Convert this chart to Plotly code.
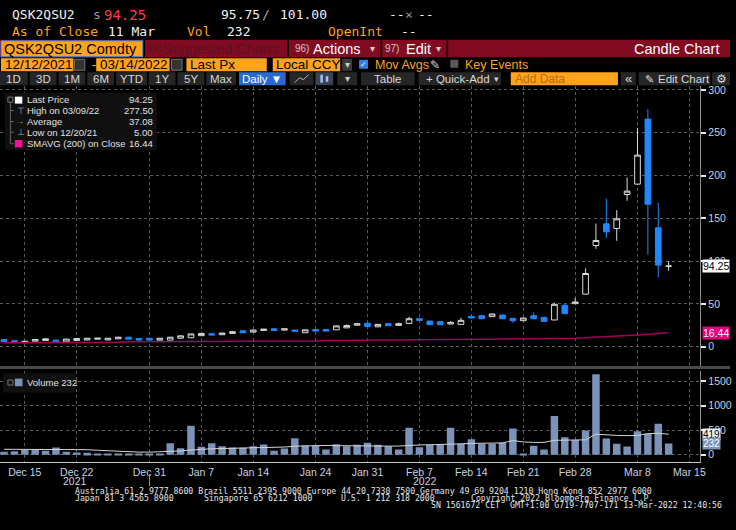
import plotly.graph_objects as go
import pandas as pd

W, H = 736, 530
SANS = "Liberation Sans, Arial, sans-serif"
MONO = "DejaVu Sans Mono, monospace"
ORANGE = "#ffa31a"
CRIMSON = "#830b21"
AXIS_TXT = "#c9d2e3"

# trading days shown (weekdays 13 Dec 2021 - 11 Mar 2022), plotted at noon
dates = pd.bdate_range("2021-12-13", "2022-03-11") + pd.Timedelta(hours=12)

opens = [8.5, 7.0, 4.8, 6.6, 7.4, 7.8, 5.8, 7.4, 8.0, 8.9, 8.0, 9.3, 11.2, 9.7, 10.0,
         7.8, 7.8, 10.0, 10.6, 13.0, 15.3, 14.1, 15.6, 18.7, 17.2, 19.1, 21.0, 19.5, 19.5, 16.4,
         20.2, 20.2, 19.8, 22.1, 25.2, 27.5, 23.3, 27.0, 25.0, 27.3, 32.8, 30.0, 29.3, 26.6, 26.2,
         35.5, 36.3, 35.2, 37.1, 33.2, 30.5, 36.3, 34.4, 31.3, 48.4, 50.4, 61.5, 118.3, 143.6, 138.2,
         177.9, 190.0, 266.0, 139.0, 94.2]
highs = [8.8, 7.2, 6.8, 8.7, 9.8, 8.0, 9.2, 9.9, 10.2, 10.1, 10.2, 11.6, 11.4, 9.9, 10.2,
         10.2, 11.4, 13.4, 15.2, 15.8, 15.5, 16.4, 18.5, 19.0, 20.2, 20.9, 21.5, 21.3, 19.8, 20.0,
         20.5, 20.6, 24.8, 26.0, 27.3, 27.8, 26.6, 27.3, 28.2, 35.0, 33.2, 30.3, 29.6, 30.0, 34.0,
         35.8, 37.5, 38.6, 37.4, 33.5, 34.0, 40.0, 34.7, 51.5, 50.5, 57.0, 91.5, 144.0, 172.9, 159.6,
         197.8, 255.8, 277.5, 168.2, 100.0]
lows = [5.8, 5.1, 4.6, 6.4, 7.2, 5.0, 5.6, 7.2, 7.8, 8.8, 7.9, 9.2, 8.8, 7.6, 7.7,
        7.6, 7.6, 9.8, 10.4, 12.8, 13.5, 13.9, 15.4, 16.2, 17.0, 18.9, 18.9, 19.3, 17.5, 16.2,
        18.0, 18.0, 19.6, 21.9, 25.0, 23.5, 23.0, 24.4, 24.8, 27.1, 30.7, 25.6, 25.6, 26.4, 26.0,
        33.4, 32.6, 35.0, 32.6, 28.0, 30.3, 32.6, 29.5, 31.1, 38.5, 50.2, 61.3, 114.4, 127.0, 123.8,
        170.5, 189.5, 107.8, 81.0, 88.8]
closes = [6.0, 5.2, 6.5, 8.5, 9.3, 5.2, 9.0, 9.7, 10.0, 10.0, 10.0, 11.2, 8.9, 7.8, 7.8,
          10.0, 11.2, 12.8, 15.0, 15.6, 13.7, 16.0, 17.6, 16.4, 19.5, 20.6, 19.1, 21.0, 18.3, 19.8,
          18.3, 18.3, 24.4, 24.8, 27.0, 23.7, 26.2, 24.6, 27.0, 32.8, 30.9, 25.8, 25.8, 28.5, 30.9,
          33.6, 32.8, 38.3, 32.8, 30.5, 33.6, 32.8, 29.7, 49.6, 38.7, 52.3, 85.6, 124.2, 134.3, 149.5,
          181.8, 223.9, 166.6, 95.4, 94.25]
sma200 = [4.8, 4.8, 4.9, 4.9, 4.9, 5.0, 5.0, 5.0, 5.1, 5.1, 5.1, 5.2,
          6.0, 6.0, 6.1, 6.1, 6.1, 6.2, 6.2, 6.2, 6.3, 6.3, 6.3, 6.4, 6.4, 6.5, 6.5, 6.6, 6.6, 6.7, 6.8,
          7.2, 7.3, 7.3, 7.4, 7.5, 7.5, 7.6, 7.7, 7.7, 7.8, 7.9, 7.9, 8.0, 8.1, 8.2, 8.3, 8.4, 8.5,
          8.6, 8.8, 8.9, 9.1,
          9.4, 9.7, 10.0, 10.5, 11.1, 11.7, 12.4, 13.1, 13.9, 14.7, 15.6, 16.44]
volume = [61, 74, 95, 95, 81, 149, 61, 47, 40, 20, 18, 20, 18, 20, 15,
          22, 236, 135, 590, 162, 236, 176, 149, 142, 176, 209, 81, 128, 338, 189,
          189, 108, 216, 176, 203, 246, 204, 176, 106, 549, 155, 204, 204, 549, 225,
          317, 218, 225, 246, 535, 14, 183, 106, 789, 359, 303, 493, 1641, 331, 225,
          169, 479, 430, 634, 232]
vol_avg = [112, 112, 110, 108, 108, 110, 108, 106, 104, 92, 80, 68, 60, 55, 54,
           56, 70, 80, 100, 112, 122, 128, 130, 132, 134, 140, 150, 158, 175, 185,
           190, 190, 186, 182, 180, 178, 176, 176, 178, 195, 200, 204, 206, 215, 222,
           232, 236, 238, 242, 290, 262, 252, 252, 295, 300, 303, 305, 420, 400, 394,
           390, 395, 430, 438, 419]

tick_days = ["2021-12-15", "2021-12-22", "2021-12-31", "2022-01-07", "2022-01-14", "2022-01-24",
             "2022-01-31", "2022-02-07", "2022-02-14", "2022-02-21", "2022-02-28", "2022-03-08",
             "2022-03-15"]
tick_text = ["Dec 15", "Dec 22", "Dec 31", "Jan 7", "Jan 14", "Jan 24", "Jan 31", "Feb 7",
             "Feb 14", "Feb 21", "Feb 28", "Mar 8", "Mar 15"]
tick_vals = pd.to_datetime(tick_days) + pd.Timedelta(hours=12)
price_ticks = [0, 50, 100, 150, 200, 250, 300]
vol_ticks = [0, 500, 1000, 1500]

shapes = []
annotations = []


def box(x0, y0, x1, y1, fill, line=None):
    shapes.append(dict(type="rect", xref="paper", yref="paper",
                       x0=x0 / W, x1=x1 / W, y0=1 - y1 / H, y1=1 - y0 / H,
                       fillcolor=fill, line=dict(width=1 if line else 0, color=line or fill)))


def seg(x0, y0, x1, y1, color, width=1):
    shapes.append(dict(type="line", xref="paper", yref="paper",
                       x0=x0 / W, x1=x1 / W, y0=1 - y0 / H, y1=1 - y1 / H,
                       line=dict(color=color, width=width)))


def label(x, y, text, color="#e8e8e8", size=11, family=SANS, anchor="left"):
    annotations.append(dict(xref="paper", yref="paper", x=x / W, y=1 - y / H, text=text,
                            showarrow=False, xanchor=anchor, yanchor="middle",
                            font=dict(color=color, size=size, family=family)))


# ---- header lines
label(10, 13, "QSK2QSU2", "#f0f0f0", 13, MONO)
label(92, 13, "s", "#9a9a9a", 13, MONO)
label(103, 13, "94.25", "#ff3b4a", 14, MONO)
label(221, 13, "95.75", "#f0f0f0", 13, MONO)
label(262, 13, "/", "#aaaaaa", 13, MONO)
label(280, 13, "101.00", "#f0f0f0", 13, MONO)
label(390, 13, "--", "#f0f0f0", 13, MONO)
label(406, 13, "×", "#999999", 13, MONO)
label(419, 13, "--", "#f0f0f0", 13, MONO)

label(10, 30, "As of Close", ORANGE, 13, MONO)
label(107, 30, "11 Mar", "#f0f0f0", 13, MONO)
label(187, 30, "Vol", ORANGE, 13, MONO)
label(227, 30, "232", "#f0f0f0", 13, MONO)
label(329, 30, "OpenInt", ORANGE, 13, MONO)
label(402, 30, "--", "#f0f0f0", 13, MONO)

# ---- crimson menu bar
box(0, 38, W, 55.5, CRIMSON)
box(1, 39, 144, 55, ORANGE, line="#3d7fe0")
for sx in (145.5, 290.5, 384.5, 451):
    box(sx - 0.8, 38, sx + 0.8, 55.5, "#000000")
label(2, 47, "QSK2QSU2 Comdty", "#000000", 14.5)
label(146, 47, "94)", "#581323", 10)
label(162, 47, "Suggested Charts", "#581323", 14.5)
label(295, 47, "96)", "#c8c8c8", 10)
label(314, 47, "Actions", "#ffffff", 14.5)
label(371, 47, "▾", "#d0d0d0", 10)
label(386, 47, "97)", "#c8c8c8", 10)
label(407, 47, "Edit", "#ffffff", 14.5)
label(438, 47, "▾", "#d0d0d0", 10)
label(727, 47, "Candle Chart", "#ffffff", 14.5, anchor="right")

# ---- date / field row
box(1, 56.5, 74, 69.5, ORANGE)
label(3, 63, "12/12/2021", "#000000", 13.5)
box(75, 57.5, 85.5, 68.5, "#333333", line="#777777")
label(91, 63, "-", "#ffc060", 12)
box(97, 56.5, 171, 69.5, ORANGE)
label(99, 63, "03/14/2022", "#000000", 13.5)
box(173, 57.5, 183.5, 68.5, "#333333", line="#777777")
box(188, 56.5, 269, 69.5, ORANGE)
label(190, 63, "Last Px", "#000000", 13.5)
box(275, 56.5, 343, 69.5, ORANGE)
label(276, 63, "Local CCY", "#000000", 13.5)
box(345, 57, 355, 69, "#3a3a3a")
label(350, 63, "▾", "#cccccc", 10, anchor="center")
box(362, 58, 371, 67, "#2f7de1")
label(366.5, 62.5, "✓", "#ffffff", 8, anchor="center")
label(376, 63, "Mov Avgs", ORANGE, 12.5)
label(432, 63, "✎", "#dddddd", 12)
box(454, 58, 462, 66, "#5a5a5a")
label(467, 63, "Key Events", ORANGE, 12.5)

# ---- button row
for bx0, bx1, btxt in [(0, 28, "1D"), (30, 57, "3D"), (59, 86, "1M"), (88, 115, "6M"),
                       (117, 148, "YTD"), (150, 177, "1Y"), (179, 206, "5Y"), (208, 238, "Max")]:
    box(bx0, 70.5, bx1, 83.5, "#262626")
    label((bx0 + bx1) / 2, 77, btxt, "#d8d8d8", 11.5, anchor="center")
box(241, 70.5, 288, 83.5, "#2a6ad0")
label(264, 77, "Daily ▼", "#ffffff", 11.5, anchor="center")
box(292, 70.5, 316, 83.5, "#262626")
shapes.append(dict(type="path", xref="paper", yref="paper", line=dict(color="#bbbbbb", width=1),
                   path="M %f,%f L %f,%f L %f,%f L %f,%f" % (297 / W, 1 - 81 / H, 302 / W, 1 - 76 / H,
                                                             306 / W, 1 - 78 / H, 311 / W, 1 - 73 / H)))
box(318, 70.5, 336, 83.5, "#3b4250")
box(323, 73, 325.5, 81, "#9ec3ff")
box(328.5, 74.5, 331, 80, "#9ec3ff")
box(340, 70.5, 360, 83.5, "#262626")
label(350, 77, "▾", "#cccccc", 10, anchor="center")
box(364, 70.5, 418, 83.5, "#262626")
label(375, 77, "Table", "#d8d8d8", 11.5)
box(422, 70.5, 505, 83.5, "#262626")
label(427, 77, "+ Quick-Add", "#d8d8d8", 11.5)
label(496, 77, "▾", "#cccccc", 9)
box(515, 70.5, 623, 83.5, ORANGE)
label(517, 77, "Add Data", "#b36d12", 12)
box(626, 70.5, 641, 83.5, "#262626")
label(633.5, 77, "«", "#d8d8d8", 13, anchor="center")
box(644, 70.5, 716, 83.5, "#262626")
label(648, 77, "✎", "#d8d8d8", 11)
label(661, 77, "Edit Chart", "#d8d8d8", 11.5)
box(718, 70.5, W, 83.5, "#262626")
label(727, 77, "⚙", "#d8d8d8", 12, anchor="center")

# ---- price legend
box(5, 91, 158, 148.5, "#101010")
seg(10.5, 99, 10.5, 142, "#666666")
box(8, 95.5, 13, 100.5, "#101010", line="#777777")
for ly in (109, 120, 130.7, 142.3):
    seg(10.5, ly, 14, ly, "#666666")
box(15, 95, 22.5, 102, "#ffffff")
label(25, 98.3, "Last Price", "#e0e0e0", 9.5)
label(156, 98.3, "94.25", "#e0e0e0", 9.5, anchor="right")
label(15, 109, "⊤", "#aaaaaa", 9)
label(25, 109, "High on 03/09/22", "#e0e0e0", 9.5)
label(156, 109, "277.50", "#e0e0e0", 9.5, anchor="right")
label(14, 120, "→", "#aaaaaa", 8)
label(25, 120, "Average", "#e0e0e0", 9.5)
label(156, 120, "37.08", "#e0e0e0", 9.5, anchor="right")
label(15, 130.7, "⊥", "#aaaaaa", 9)
label(25, 130.7, "Low on 12/20/21", "#e0e0e0", 9.5)
label(156, 130.7, "5.00", "#e0e0e0", 9.5, anchor="right")
box(15, 138.5, 22.5, 146, "#ff0a9a")
label(25, 142.3, "SMAVG (200)", "#e0e0e0", 9.5)
label(87, 142.3, "on Close", "#e0e0e0", 9.5)
label(156, 142.3, "16.44", "#e0e0e0", 9.5, anchor="right")

# ---- panel separator and volume legend
box(0, 365.5, W, 368.5, "#4a4a4a")
box(3, 373, 76, 392, "#101010")
box(8, 379.5, 13, 384.5, "#101010", line="#777777")
box(15, 378, 22.7, 385.7, "#7b93b8")
label(25, 382, "Volume 232", "#e0e0e0", 9.5)

# ---- year labels under the date axis
label(76, 481, "2021", AXIS_TXT, 10.5, anchor="center")
label(428, 481, "2022", AXIS_TXT, 10.5, anchor="center")
seg(150.7, 474, 150.7, 486, "#999999")

# ---- footer
FT = "#e6e6e6"
label(74, 491, "Australia 61 2 9777 8600 Brazil 5511 2395 9000 Europe 44 20 7330 7500 Germany 49 69 9204 1210 Hong Kong 852 2977 6000", FT, 8.2, MONO)
label(74, 498, "Japan 81 3 4565 8900", FT, 8.2, MONO)
label(204, 498, "Singapore 65 6212 1000", FT, 8.2, MONO)
label(342, 498, "U.S. 1 212 318 2000", FT, 8.2, MONO)
label(473, 498, "Copyright 2022 Bloomberg Finance L.P.", FT, 8.2, MONO)
label(433, 505, "SN 1561672 CET", FT, 8.2, MONO)
label(512, 505, "GMT+1:00 G719-7707-171 13-Mar-2022 12:40:56", FT, 8.2, MONO)

# ---- last value tags on the right axis
for yv, ref, txt, bg, fg in [(94.25, "y", "94.25", "#ffffff", "#000000"),
                             (16.44, "y", "16.44", "#e4007c", "#ffffff"),
                             (419, "y2", "419", "#f0f0f0", "#000000"),
                             (232, "y2", "232", "#7b93b8", "#ffffff")]:
    annotations.append(dict(xref="paper", yref=ref, x=707.5 / W, y=yv, text=txt, showarrow=False,
                            xanchor="left", yanchor="middle", bgcolor=bg, borderpad=0,
                            font=dict(color=fg, size=10.5 if ref == "y" else 10, family=SANS)))

fig = go.Figure()
fig.add_trace(go.Candlestick(
    x=dates, open=opens, high=highs, low=lows, close=closes, xaxis="x", yaxis="y",
    whiskerwidth=0,
    increasing=dict(line=dict(color="#dcdcdc", width=1), fillcolor="#000000"),
    decreasing=dict(line=dict(color="#1e88ff", width=1), fillcolor="#1e88ff"),
    hoverinfo="skip"))
fig.add_trace(go.Scatter(x=dates, y=sma200, mode="lines", xaxis="x", yaxis="y",
                         line=dict(color="#a3005c", width=1.5), hoverinfo="skip"))
fig.add_trace(go.Bar(x=dates, y=volume, xaxis="x2", yaxis="y2", width=0.72 * 86400000,
                     marker=dict(color="#7b93b8", line=dict(width=0)), hoverinfo="skip"))
fig.add_trace(go.Scatter(x=dates, y=vol_avg, mode="lines", xaxis="x2", yaxis="y2",
                         line=dict(color="#d4d4d4", width=1), hoverinfo="skip"))

xr = ["2021-12-13 02:40", "2022-03-16 13:00"]
breaks = [dict(bounds=["sat", "mon"])]
grid = dict(showgrid=True, gridcolor="#5a5a5a", griddash="dot", gridwidth=1, zeroline=False)
right_axis = dict(side="right", showline=True, linecolor="#8a8a8a", ticks="outside", ticklen=5,
                  tickwidth=2, tickcolor="#e6e6e6", tickfont=dict(color=AXIS_TXT, size=10.5, family=SANS))

fig.update_layout(
    width=W, height=H, margin=dict(l=0, r=0, t=0, b=0),
    paper_bgcolor="#000000", plot_bgcolor="#000000",
    showlegend=False, hovermode=False, boxgap=0.22,
    xaxis=dict(domain=[0, 706 / W], anchor="y", type="date", range=xr, rangebreaks=breaks,
               tickvals=tick_vals, showticklabels=False, ticks="",
               rangeslider=dict(visible=False), **grid),
    xaxis2=dict(domain=[0, 706 / W], anchor="y2", type="date", range=xr, rangebreaks=breaks,
                matches="x", tickvals=tick_vals, ticktext=tick_text, ticks="",
                showline=True, linecolor="#c8c8c8", linewidth=1,
                tickfont=dict(color=AXIS_TXT, size=10.5, family=SANS), **grid),
    yaxis=dict(domain=[1 - 365 / H, 1 - 84 / H], anchor="x", range=[-22, 305],
               tickvals=price_ticks, **right_axis, **grid),
    yaxis2=dict(domain=[1 - 462 / H, 1 - 370 / H], anchor="x2", range=[-152, 1714],
                tickvals=vol_ticks, **right_axis, **grid),
    shapes=shapes, annotations=annotations,
)

# page margin and scrollbars removed so the 736x530 figure fills the window exactly
fig.write_html("out.html", config={"displayModeBar": False},
               post_script="document.documentElement.style.overflow='hidden';"
                           "document.body.style.overflow='hidden';"
                           "document.body.style.margin='0px';document.body.style.background='#000';")
